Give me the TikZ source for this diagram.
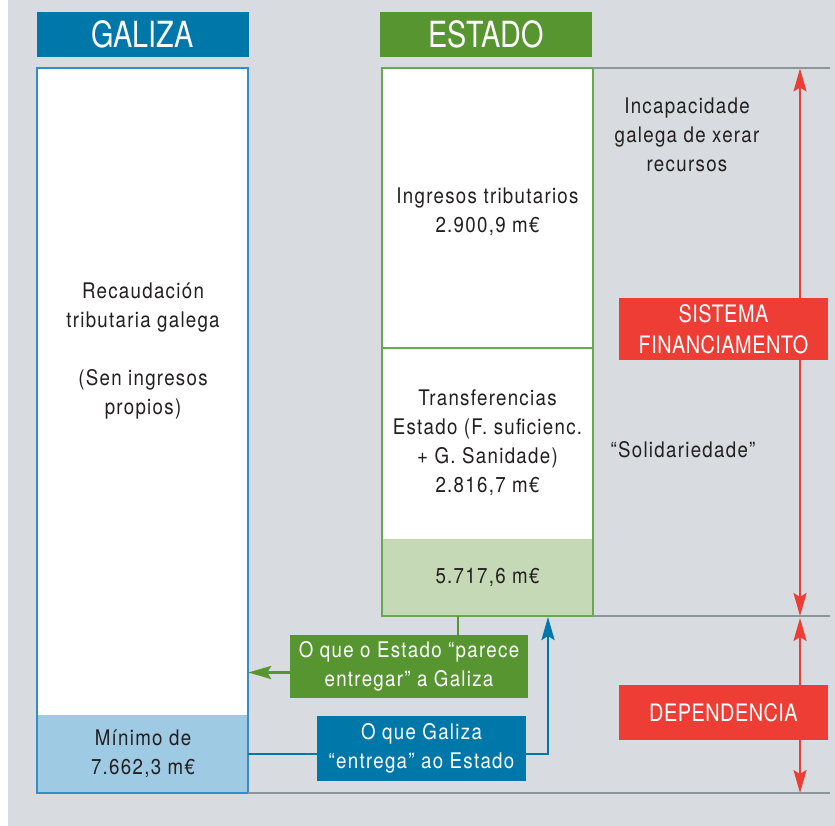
\documentclass[tikz,border=0pt]{standalone}
\usepackage{fontspec}
\setmainfont{TeX Gyre Heros}[FakeStretch=0.87,LetterSpace=6]
\newfontfamily\capsf{TeX Gyre Heros}[FakeStretch=0.83,LetterSpace=2]
\newfontfamily\headf{TeX Gyre Heros}[FakeStretch=0.8]
\usetikzlibrary{arrows.meta,calc}
\definecolor{bggrey}{HTML}{D8DBDF}
\definecolor{hblue}{HTML}{0077A9}
\definecolor{hgreen}{HTML}{579531}
\definecolor{lblue}{HTML}{9FCAE3}
\definecolor{bblue}{HTML}{2F8FC6}
\definecolor{lgreen}{HTML}{C5D9B6}
\definecolor{bgreen}{HTML}{6AA84F}
\definecolor{redc}{HTML}{EE3D34}
\definecolor{greyline}{HTML}{8C979B}
\definecolor{txt}{HTML}{231F20}
\tikzset{
  body/.style={text=txt,align=center,font=\fontsize{21.5}{29}\selectfont,inner sep=0pt},
  header/.style={text=white,minimum width=212pt,minimum height=45pt,inner sep=0pt,font=\headf\fontsize{36}{40}\selectfont},
  redbox/.style={fill=redc,text=white,minimum width=209pt,inner sep=0pt,align=center,font=\capsf\fontsize{24}{31}\selectfont},
  lbl/.style={text=white,inner sep=0pt,align=center,font=\fontsize{21.5}{29}\selectfont},
  gline/.style={draw=greyline,line width=1.8pt},
  redarrow/.style={draw=redc,line width=2pt,{Stealth[length=23pt,width=13pt,inset=4pt]}-{Stealth[length=23pt,width=13pt,inset=4pt]}},
  conn/.style={line width=2.6pt},
  ctip/.style={-{Stealth[length=23pt,width=13pt,inset=4pt]}}
}
\begin{document}
\begin{tikzpicture}[x=1pt,y=-1pt]
\useasboundingbox (0,0) rectangle (835,826);
\fill[white] (0,0) rectangle (835,826);
\fill[bggrey] (8,0) rectangle (835,826);
% headers
\node[header,fill=hblue] (galhead) at (142.5,34.5) {GALIZA};
\node[header,fill=hgreen] (esthead) at (486,34.5) {ESTADO};
% Galiza column
\node[fill=white,minimum width=211pt,minimum height=725pt,inner sep=0pt] (galcol) at (142.5,430.5) {};
\node[fill=lblue,minimum width=211pt,minimum height=78pt,inner sep=0pt] (minimo) at (142.5,754) {};
\draw[bblue,line width=1.5pt] (galcol.north west) rectangle (galcol.south east);
\node[body] (recaud) at (143,307.5) {Recaudación\\tributaria galega};
\node[body] (sen) at (143,394) {(Sen ingresos\\propios)};
\node[body] (mintxt) at (143,753.5) {Mínimo de\\7.662,3 m€};
% Estado column
\node[fill=white,minimum width=211pt,minimum height=280pt,inner sep=0pt] (ingresos) at (487.5,208) {};
\node[fill=white,minimum width=211pt,minimum height=191pt,inner sep=0pt] (transf) at (487.5,443.5) {};
\node[fill=lgreen,minimum width=211pt,minimum height=77pt,inner sep=0pt] (total) at (487.5,577.5) {};
\draw[bgreen,line width=1.5pt] (ingresos.north west) rectangle (total.south east);
\draw[bgreen,line width=1.5pt] (ingresos.south west) -- (ingresos.south east);
\node[body] (ingtxt) at (487.5,212) {Ingresos tributarios\\2.900,9 m€};
\node[body] (trtxt) at (487.5,443) {Transferencias\\Estado (F. suficienc.\\+ G. Sanidade)\\2.816,7 m€};
\node[body] (tottxt) at (487.5,577) {5.717,6 m€};
% right side texts
\node[body] (incap) at (687,135) {Incapacidade\\galega de xerar\\recursos};
\node[body] (solid) at (683,450) {“Solidariedade”};
% grey lines
\coordinate (gl1a) at (593,68);
\coordinate (gl1b) at (830,68);
\coordinate (gl2a) at (593,616);
\coordinate (gl2b) at (830,616);
\coordinate (gl3a) at (248,793);
\coordinate (gl3b) at (830,793);
\draw[gline] (gl1a) -- (gl1b);
\draw[gline] (gl2a) -- (gl2b);
\draw[gline] (gl3a) -- (gl3b);
% red arrows
\coordinate (ra1) at (800,68.5);
\coordinate (ra2) at (800,616);
\coordinate (ra3) at (800,618);
\coordinate (ra4) at (800,793);
\draw[redarrow] (ra1) -- (ra2);
\draw[redarrow] (ra3) -- (ra4);
\node[redbox,minimum height=62pt] (sistema) at (723.5,329) {SISTEMA\\FINANCIAMENTO};
\node[redbox,minimum height=55pt] (depend) at (723.5,712.5) {DEPENDENCIA};
% labels
\node[lbl,fill=hgreen,minimum width=238pt,minimum height=63pt] (greenlbl) at (409,666.5) {O que o Estado “parece\\entregar” a Galiza};
\node[lbl,fill=hblue,minimum width=209pt,minimum height=65pt] (bluelbl) at (421.5,748.5) {O que Galiza\\“entrega” ao Estado};
% connectors
\coordinate (g1) at (458,616);
\draw[hgreen,conn] (g1) -- (g1 |- greenlbl.north);
\coordinate (g2) at (290,672.5);
\draw[hgreen,conn,ctip] (g2) -- (g2 -| galcol.east);
\coordinate (b1) at (248,754);
\coordinate (b2) at (548,754);
\coordinate (b3) at (548,617);
\draw[hblue,conn] (b1) -- (b1 -| bluelbl.west);
\draw[hblue,conn,ctip] (b1 -| bluelbl.east) -- (b2) -- (b3);
\end{tikzpicture}
\end{document}
